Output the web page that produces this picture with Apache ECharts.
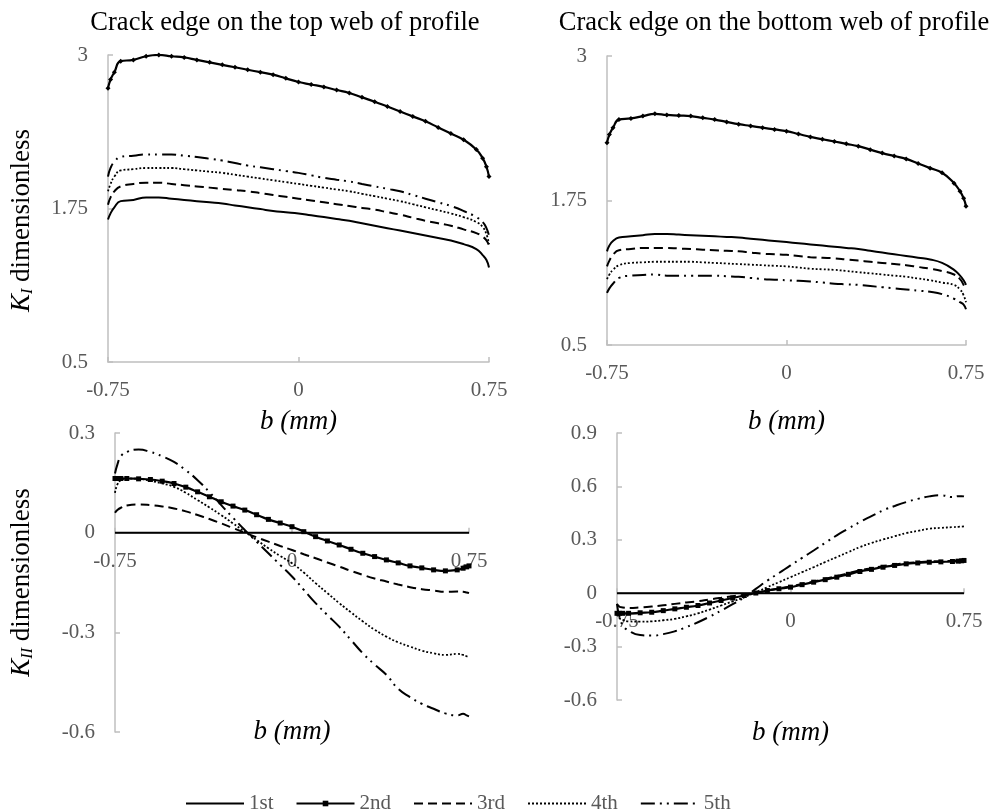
<!DOCTYPE html>
<html>
<head>
<meta charset="utf-8">
<title>K_I / K_II along crack edge</title>
<script src="https://cdn.jsdelivr.net/npm/echarts@6/dist/echarts.min.js"></script>
<style>
  html, body { margin: 0; padding: 0; background: #fff; }
  #chart { width: 993px; height: 810px; }
</style>
</head>
<body>
<div id="chart"></div>
<script>
// b position along the crack front (mm)
const bValues = [-0.75, -0.74, -0.725, -0.7, -0.65, -0.6, -0.55, -0.5, -0.45, -0.4, -0.35, -0.3, -0.25, -0.2, -0.15, -0.1, -0.05, 0,
  0.05, 0.1, 0.15, 0.2, 0.25, 0.3, 0.35, 0.4, 0.45, 0.5, 0.55, 0.6, 0.65, 0.7, 0.725, 0.74, 0.75]

const seriesNames = ['1st', '2nd', '3rd', '4th', '5th']

// K_I, crack edge on the top web
const kITop1 = [1.66, 1.71, 1.76, 1.81, 1.82, 1.84, 1.84, 1.83, 1.82, 1.81, 1.80, 1.79, 1.775, 1.76, 1.745, 1.73, 1.72, 1.71,
  1.695, 1.68, 1.665, 1.65, 1.63, 1.61, 1.59, 1.57, 1.55, 1.53, 1.51, 1.49, 1.46, 1.42, 1.37, 1.33, 1.27]
const kITop2 = [2.73, 2.80, 2.86, 2.95, 2.96, 2.99, 3.0, 2.99, 2.98, 2.96, 2.94, 2.92, 2.90, 2.88, 2.86, 2.84, 2.81, 2.78,
  2.76, 2.74, 2.715, 2.69, 2.655, 2.62, 2.58, 2.54, 2.50, 2.46, 2.41, 2.36, 2.31, 2.23, 2.16, 2.09, 2.01]
const kITop3 = [1.78, 1.84, 1.89, 1.93, 1.95, 1.96, 1.96, 1.95, 1.94, 1.93, 1.92, 1.91, 1.90, 1.89, 1.875, 1.86, 1.845, 1.83,
  1.815, 1.80, 1.785, 1.77, 1.755, 1.74, 1.72, 1.70, 1.675, 1.65, 1.63, 1.61, 1.58, 1.55, 1.52, 1.49, 1.45]
const kITop4 = [1.89, 1.95, 2.01, 2.06, 2.07, 2.08, 2.08, 2.08, 2.07, 2.06, 2.05, 2.04, 2.025, 2.01, 1.995, 1.98, 1.965, 1.95,
  1.935, 1.92, 1.905, 1.89, 1.87, 1.85, 1.83, 1.81, 1.785, 1.76, 1.735, 1.71, 1.68, 1.64, 1.60, 1.54, 1.46]
const kITop5 = [2.01, 2.08, 2.13, 2.17, 2.18, 2.19, 2.19, 2.19, 2.18, 2.17, 2.155, 2.14, 2.12, 2.10, 2.085, 2.07, 2.055, 2.04,
  2.02, 2.00, 1.985, 1.97, 1.95, 1.93, 1.91, 1.89, 1.86, 1.83, 1.80, 1.77, 1.73, 1.68, 1.64, 1.59, 1.53]

// K_I, crack edge on the bottom web
const kIBot1 = [1.31, 1.36, 1.40, 1.43, 1.44, 1.45, 1.46, 1.46, 1.455, 1.45, 1.445, 1.44, 1.435, 1.43, 1.42, 1.41, 1.40, 1.39,
  1.38, 1.37, 1.36, 1.35, 1.34, 1.33, 1.315, 1.30, 1.285, 1.27, 1.255, 1.24, 1.21, 1.15, 1.10, 1.06, 1.02]
const kIBot2 = [2.25, 2.32, 2.38, 2.45, 2.46, 2.48, 2.50, 2.49, 2.485, 2.48, 2.465, 2.45, 2.43, 2.41, 2.395, 2.38, 2.365, 2.35,
  2.325, 2.30, 2.28, 2.26, 2.24, 2.22, 2.19, 2.16, 2.135, 2.11, 2.07, 2.03, 1.99, 1.90, 1.83, 1.77, 1.70]
const kIBot3 = [1.18, 1.23, 1.28, 1.32, 1.33, 1.34, 1.34, 1.34, 1.335, 1.33, 1.325, 1.32, 1.315, 1.31, 1.30, 1.29, 1.285, 1.28,
  1.27, 1.26, 1.255, 1.25, 1.24, 1.23, 1.22, 1.21, 1.20, 1.19, 1.175, 1.16, 1.14, 1.11, 1.07, 1.02, 0.98]
const kIBot4 = [1.07, 1.11, 1.15, 1.19, 1.21, 1.215, 1.22, 1.22, 1.22, 1.22, 1.215, 1.21, 1.205, 1.20, 1.195, 1.19, 1.185, 1.18,
  1.17, 1.16, 1.155, 1.15, 1.14, 1.13, 1.12, 1.11, 1.10, 1.09, 1.075, 1.06, 1.04, 1.02, 0.98, 0.93, 0.87]
const kIBot5 = [0.95, 0.99, 1.03, 1.08, 1.10, 1.105, 1.11, 1.10, 1.10, 1.10, 1.10, 1.10, 1.095, 1.09, 1.08, 1.07, 1.065, 1.06,
  1.055, 1.05, 1.04, 1.03, 1.025, 1.02, 1.01, 1.00, 0.99, 0.98, 0.97, 0.96, 0.94, 0.90, 0.87, 0.85, 0.81]

// K_II, crack edge on the top web
const kIITop1 = [0, 0, 0, 0, 0, 0, 0, 0, 0, 0, 0, 0, 0, 0, 0, 0, 0, 0, 0, 0, 0, 0, 0, 0, 0, 0, 0, 0, 0, 0, 0, 0, 0, 0, 0]
const kIITop2 = [0.163, 0.163, 0.163, 0.163, 0.162, 0.16, 0.155, 0.148, 0.137, 0.123, 0.108, 0.093, 0.08, 0.068, 0.054, 0.04, 0.029, 0.018,
  0.003, -0.012, -0.025, -0.037, -0.05, -0.062, -0.072, -0.082, -0.091, -0.10, -0.106, -0.112, -0.115, -0.112, -0.107, -0.103, -0.10]
const kIITop3 = [0.06, 0.068, 0.075, 0.082, 0.085, 0.083, 0.079, 0.073, 0.064, 0.053, 0.041, 0.028, 0.014, 0.0, -0.014, -0.027, -0.04, -0.052,
  -0.065, -0.077, -0.09, -0.102, -0.115, -0.127, -0.138, -0.147, -0.156, -0.164, -0.17, -0.174, -0.178, -0.177, -0.178, -0.18, -0.182]
const kIITop4 = [0.12, 0.145, 0.158, 0.163, 0.162, 0.156, 0.148, 0.138, 0.12, 0.098, 0.076, 0.053, 0.028, 0.003, -0.022, -0.047, -0.07, -0.092,
  -0.12, -0.152, -0.182, -0.212, -0.24, -0.267, -0.292, -0.313, -0.33, -0.343, -0.355, -0.363, -0.368, -0.365, -0.368, -0.372, -0.375]
const kIITop5 = [0.178, 0.205, 0.23, 0.243, 0.25, 0.243, 0.23, 0.213, 0.188, 0.158, 0.122, 0.083, 0.045, 0.008, -0.027, -0.062, -0.097, -0.132,
  -0.172, -0.212, -0.248, -0.283, -0.323, -0.363, -0.397, -0.428, -0.47, -0.495, -0.515, -0.53, -0.544, -0.55, -0.545, -0.55, -0.553]

// K_II, crack edge on the bottom web
const kIIBot1 = [0, 0, 0, 0, 0, 0, 0, 0, 0, 0, 0, 0, 0, 0, 0, 0, 0, 0, 0, 0, 0, 0, 0, 0, 0, 0, 0, 0, 0, 0, 0, 0, 0, 0, 0]
const kIIBot2 = [-0.113, -0.113, -0.113, -0.113, -0.11, -0.107, -0.098, -0.088, -0.079, -0.069, -0.055, -0.041, -0.027, -0.013, 0.001, 0.015, 0.025, 0.034,
  0.048, 0.062, 0.076, 0.09, 0.106, 0.122, 0.134, 0.146, 0.156, 0.165, 0.17, 0.174, 0.176, 0.178, 0.18, 0.182, 0.184]
const kIIBot3 = [-0.06, -0.075, -0.08, -0.083, -0.08, -0.075, -0.068, -0.06, -0.052, -0.045, -0.035, -0.026, -0.017, -0.008, 0.003, 0.015, 0.027, 0.038,
  0.052, 0.066, 0.081, 0.096, 0.112, 0.128, 0.14, 0.152, 0.161, 0.169, 0.174, 0.178, 0.18, 0.182, 0.184, 0.186, 0.188]
const kIIBot4 = [-0.12, -0.14, -0.15, -0.158, -0.16, -0.158, -0.152, -0.144, -0.13, -0.113, -0.092, -0.069, -0.046, -0.023, 0.005, 0.034, 0.062, 0.09,
  0.118, 0.146, 0.175, 0.203, 0.231, 0.259, 0.282, 0.302, 0.32, 0.338, 0.35, 0.362, 0.367, 0.371, 0.373, 0.374, 0.375]
const kIIBot5 = [-0.06, -0.13, -0.18, -0.21, -0.235, -0.238, -0.23, -0.214, -0.19, -0.163, -0.132, -0.098, -0.062, -0.023, 0.024, 0.071, 0.113, 0.156,
  0.198, 0.24, 0.283, 0.325, 0.363, 0.40, 0.433, 0.465, 0.49, 0.512, 0.53, 0.544, 0.55, 0.54, 0.545, 0.545, 0.544]

const kITicks = [0.5, 1.75, 3]

const FONT = '"Liberation Serif", "Times New Roman", serif'
const AXIS_GREY = '#bfbfbf'
const LABEL_GREY = '#595959'

// one line style per load case
const lineStyles = [
  { type: 'solid', width: 2 },
  { type: 'solid', width: 2.2 },
  { type: [9, 5], width: 2 },
  { type: [2, 2], width: 1.8 },
  { type: [14, 5, 2, 5, 2, 5], width: 2 }
]

let makeSeries = (idx, values, k, symbol) => {
  return {
    name: seriesNames[k],
    type: 'line',
    xAxisIndex: idx,
    yAxisIndex: idx,
    smooth: true,
    symbol: k === 1 ? symbol : 'none',
    symbolSize: 5,
    showSymbol: k === 1,
    lineStyle: Object.assign({ color: '#000' }, lineStyles[k]),
    itemStyle: { color: '#000' },
    data: bValues.map((b, i) => [b, values[i]])
  }
}

let xAxisOf = (idx, nameGap) => ({
  type: 'value',
  gridIndex: idx,
  min: -0.75,
  max: 0.75,
  interval: 0.75,
  name: 'b (mm)',
  nameLocation: 'middle',
  nameGap: nameGap,
  nameTextStyle: { fontFamily: FONT, fontSize: 27, fontStyle: 'italic', color: '#000' },
  splitLine: { show: false },
  axisLine: { onZero: false, lineStyle: { color: AXIS_GREY, width: 1.5 } },
  axisTick: { show: true, inside: true, length: 5, lineStyle: { color: AXIS_GREY, width: 1.5 } },
  axisLabel: { fontFamily: FONT, fontSize: 21, color: LABEL_GREY, margin: 18 }
})

let yAxisOf = (idx, extra) => Object.assign({
  type: 'value',
  gridIndex: idx,
  splitLine: { show: false },
  axisLine: { show: true, onZero: false, lineStyle: { color: AXIS_GREY, width: 1.5 } },
  axisTick: { show: true, inside: true, length: 5, lineStyle: { color: AXIS_GREY, width: 1.5 } },
  axisLabel: { fontFamily: FONT, fontSize: 21, color: LABEL_GREY, margin: 20 }
}, extra)

let yName = (sub, gap, shift) => ({
  name: '{k|K}{s|' + sub + '}{t| dimensionless}',
  nameLocation: 'middle',
  nameRotate: 90,
  nameGap: gap,
  nameTextStyle: {
    fontFamily: FONT,
    fontSize: 27,
    color: '#000',
    padding: [0, shift, 0, 0],
    rich: {
      k: { fontFamily: FONT, fontSize: 27, fontStyle: 'italic', color: '#000' },
      s: { fontFamily: FONT, fontSize: 16, fontStyle: 'italic', color: '#000', verticalAlign: 'bottom', padding: [13, 0, 0, 0] },
      t: { fontFamily: FONT, fontSize: 27, color: '#000' }
    }
  }
})

const kITickLabel = { fontFamily: FONT, fontSize: 21, color: LABEL_GREY, margin: 20, customValues: kITicks }
const kITickMark = { show: true, inside: true, length: 5, customValues: kITicks, lineStyle: { color: AXIS_GREY, width: 1.5 } }

// legend: only the 2nd case carries a marker
const noMarker = { color: 'rgba(0,0,0,0)', borderWidth: 0 }
const legendItems = seriesNames.map((n, k) => k === 1 ? { name: n } : { name: n, itemStyle: noMarker })

let chart = echarts.init(document.getElementById('chart'), null, { width: 993, height: 810, renderer: 'canvas' })

let option = {
  animation: false,
  backgroundColor: '#fff',
  title: [
    { text: 'Crack edge on the top web of profile', left: 280, top: 5, textAlign: 'center',
      textStyle: { fontFamily: FONT, fontSize: 26.5, fontWeight: 'normal', color: '#000' } },
    { text: 'Crack edge on the bottom web of profile', left: 769, top: 5, textAlign: 'center',
      textStyle: { fontFamily: FONT, fontSize: 26.5, fontWeight: 'normal', color: '#000' } }
  ],
  legend: {
    data: legendItems,
    left: 180,
    top: 788,
    itemWidth: 58,
    itemHeight: 7,
    itemGap: 22,
    textStyle: { fontFamily: FONT, fontSize: 21, color: LABEL_GREY }
  },
  grid: [
    { left: 108, top: 55, width: 381, height: 307, outerBoundsMode: 'none' },
    { left: 607, top: 56, width: 359, height: 289, outerBoundsMode: 'none' },
    { left: 115, top: 433, width: 354, height: 299, outerBoundsMode: 'none' },
    { left: 617, top: 433, width: 347, height: 267, outerBoundsMode: 'none' }
  ],
  xAxis: [
    xAxisOf(0, 46),
    xAxisOf(1, 63),
    xAxisOf(2, 186),
    xAxisOf(3, 126)
  ],
  yAxis: [
    yAxisOf(0, Object.assign({ min: 0.5, max: 3, axisLabel: kITickLabel, axisTick: kITickMark }, yName('I', 72, 24))),
    yAxisOf(1, { min: 0.5, max: 3, axisLabel: kITickLabel, axisTick: kITickMark }),
    yAxisOf(2, Object.assign({ min: -0.6, max: 0.3, interval: 0.3 }, yName('II', 79, 0))),
    yAxisOf(3, { min: -0.6, max: 0.9, interval: 0.3 })
  ],
  // K_II panels first so the legend takes its square marker for "2nd"
  series: [
    makeSeries(2, kIITop1, 0), makeSeries(2, kIITop2, 1, 'rect'), makeSeries(2, kIITop3, 2),
    makeSeries(2, kIITop4, 3), makeSeries(2, kIITop5, 4),
    makeSeries(3, kIIBot1, 0), makeSeries(3, kIIBot2, 1, 'rect'), makeSeries(3, kIIBot3, 2),
    makeSeries(3, kIIBot4, 3), makeSeries(3, kIIBot5, 4),
    makeSeries(0, kITop1, 0), makeSeries(0, kITop2, 1, 'diamond'), makeSeries(0, kITop3, 2),
    makeSeries(0, kITop4, 3), makeSeries(0, kITop5, 4),
    makeSeries(1, kIBot1, 0), makeSeries(1, kIBot2, 1, 'diamond'), makeSeries(1, kIBot3, 2),
    makeSeries(1, kIBot4, 3), makeSeries(1, kIBot5, 4)
  ]
}

chart.setOption(option)

// K_II panels: lift the b axis onto the zero line of its own y axis
let axisShift = [2, 3].map(i => {
  let zeroY = chart.convertToPixel({ yAxisIndex: i }, 0)
  let bottomY = chart.convertToPixel({ yAxisIndex: i }, option.yAxis[i].min)
  return { offset: zeroY - bottomY }
})
chart.setOption({ xAxis: [{}, {}].concat(axisShift) })
</script>
</body>
</html>
